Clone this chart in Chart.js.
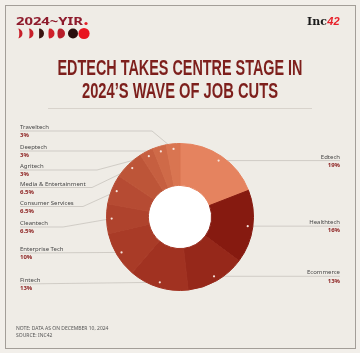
<!DOCTYPE html>
<html>
<head>
<meta charset="utf-8">
<script src="https://cdn.jsdelivr.net/npm/chart.js@4.4.0/dist/chart.umd.min.js"></script>
<style>
  html, body { margin: 0; padding: 0; background: #f2efea; }
  #card { position: absolute; left: 5px; top: 5px; width: 349px; height: 342px; border: 1px solid #a39e98; background: #efece6; }
  #chart { position: absolute; left: 0; top: 0; }
</style>
</head>
<body>
<div id="card"></div>
<canvas id="chart" width="360" height="353"></canvas>
<script>
// Data
const categories = ['Edtech', 'Healthtech', 'Ecommerce', 'Fintech', 'Enterprise Tech', 'Cleantech',
  'Consumer Services', 'Media & Entertainment', 'Agritech', 'Deeptech', 'Traveltech'];
const shares = [19, 16, 13, 13, 10, 6.5, 6.5, 6.5, 3, 3, 3];

const sliceColors = ['#e5835f', '#861a10', '#96281a', '#a13221', '#a93b27', '#af432d',
  '#b64b33', '#bd5538', '#c65f40', '#cf6a48', '#d97551'];

// Callout layout (left side labels sit on fixed rows, right ones follow their dot)
const labelSide = ['right', 'right', 'right', 'left', 'left', 'left', 'left', 'left', 'left', 'left', 'left'];
const labelLineY = [null, null, null, 284, 253, 227, 206.5, 187.5, 170, 151, 131];
const labelElbowX = [null, null, null, null, null, 63, 83, 92, 97, 140, 152];

const FONT = '"Noto Sans", sans-serif';

function fitText(ctx, text, x, y, width, align) {
  const w = ctx.measureText(text).width;
  ctx.save();
  ctx.translate(x, y);
  ctx.scale(width / w, 1);
  ctx.textAlign = align;
  ctx.fillText(text, 0, 0);
  ctx.restore();
}

// moon shape lit on the right side; k > 0 crescent, k < 0 gibbous
function moon(ctx, cx, cy, r, k, color) {
  ctx.fillStyle = color;
  ctx.beginPath();
  ctx.arc(cx, cy, r, -Math.PI / 2, Math.PI / 2, false);
  ctx.ellipse(cx, cy, Math.abs(k) * r + 0.01, r, 0, Math.PI / 2, -Math.PI / 2, k > 0);
  ctx.closePath();
  ctx.fill();
}

const headerPlugin = {
  id: 'header',
  beforeDraw(chart) {
    const ctx = chart.ctx;
    ctx.save();
    ctx.textBaseline = 'alphabetic';

    // 2024~YIR. logo
    ctx.fillStyle = '#8e1b2c';
    ctx.font = 'bold 11px ' + FONT;
    fitText(ctx, '2024~YIR', 16, 25, 67, 'left');
    ctx.fillStyle = '#e41f26';
    ctx.beginPath();
    ctx.arc(86, 23.5, 1.6, 0, Math.PI * 2);
    ctx.fill();

    moon(ctx, 17.5, 33.5, 5, 0.35, '#c8202a');
    moon(ctx, 28.5, 33.5, 5, 0.2, '#c8202a');
    moon(ctx, 39, 33.5, 5, 0.02, '#3a1410');
    moon(ctx, 49.5, 33.5, 5, -0.2, '#d0202a');
    moon(ctx, 60, 33.5, 5, -0.5, '#b81d2a');
    ctx.fillStyle = '#2a0e0c';
    ctx.beginPath(); ctx.arc(73, 33.5, 5, 0, Math.PI * 2); ctx.fill();
    ctx.fillStyle = '#e8151f';
    ctx.beginPath(); ctx.arc(84, 33.5, 5.6, 0, Math.PI * 2); ctx.fill();

    // Inc42 logo
    ctx.fillStyle = '#1b1b1b';
    ctx.font = 'bold 11px "DejaVu Serif", serif';
    ctx.textAlign = 'left';
    ctx.fillText('Inc', 307, 25);
    const incW = ctx.measureText('Inc').width;
    ctx.fillStyle = '#e8202a';
    ctx.font = 'italic bold 11px "Liberation Sans", sans-serif';
    ctx.fillText('42', 307 + incW + 0.5, 25);

    // title
    ctx.fillStyle = '#7d1f1c';
    ctx.font = 'bold 22px "Liberation Sans Narrow", "Liberation Sans", sans-serif';
    fitText(ctx, 'EDTECH TAKES CENTRE STAGE IN', 180, 74.5, 245, 'center');
    fitText(ctx, '2024\u2019S WAVE OF JOB CUTS', 180, 97.5, 196, 'center');

    ctx.strokeStyle = '#d8d3cc';
    ctx.lineWidth = 1;
    ctx.beginPath();
    ctx.moveTo(48, 108.5);
    ctx.lineTo(312, 108.5);
    ctx.stroke();

    // footer
    ctx.fillStyle = '#555555';
    ctx.font = '5px ' + FONT;
    ctx.textAlign = 'left';
    ctx.fillText('NOTE: DATA AS ON DECEMBER 10, 2024', 16, 330);
    ctx.fillText('SOURCE: INC42', 16, 336.5);
    ctx.restore();
  }
};

function dotPos(arc) {
  const p = arc.getProps(['x', 'y', 'startAngle', 'endAngle', 'outerRadius'], true);
  const mid = (p.startAngle + p.endAngle) / 2;
  const r = p.outerRadius * 0.93;
  return { x: p.x + Math.cos(mid) * r, y: p.y + Math.sin(mid) * r };
}

const calloutPlugin = {
  id: 'callouts',
  beforeDatasetsDraw(chart) {
    const ctx = chart.ctx;
    const arcs = chart.getDatasetMeta(0).data;
    ctx.save();
    // white hole in the middle
    const a0 = arcs[0].getProps(['x', 'y', 'innerRadius'], true);
    ctx.fillStyle = '#ffffff';
    ctx.beginPath();
    ctx.arc(a0.x, a0.y, a0.innerRadius + 0.5, 0, Math.PI * 2);
    ctx.fill();

    ctx.strokeStyle = '#c3beb8';
    ctx.lineWidth = 0.7;
    arcs.forEach((arc, i) => {
      const d = dotPos(arc);
      ctx.beginPath();
      if (labelSide[i] === 'right') {
        ctx.moveTo(d.x, d.y);
        ctx.lineTo(340, d.y);
      } else {
        const y = labelLineY[i];
        ctx.moveTo(20, y);
        if (labelElbowX[i] !== null) ctx.lineTo(labelElbowX[i], y);
        ctx.lineTo(d.x, d.y);
      }
      ctx.stroke();
    });
    ctx.restore();
  },
  afterDatasetsDraw(chart) {
    const ctx = chart.ctx;
    const arcs = chart.getDatasetMeta(0).data;
    ctx.save();
    arcs.forEach((arc, i) => {
      const d = dotPos(arc);
      ctx.fillStyle = '#f6e4dc';
      ctx.beginPath();
      ctx.arc(d.x, d.y, 1.1, 0, Math.PI * 2);
      ctx.fill();

      const right = labelSide[i] === 'right';
      const x = right ? 340 : 20;
      const y = right ? d.y : labelLineY[i];
      ctx.textAlign = right ? 'right' : 'left';
      ctx.textBaseline = 'alphabetic';
      ctx.fillStyle = '#474747';
      ctx.font = '6px ' + FONT;
      ctx.fillText(categories[i], x, y - 1.8);
      ctx.fillStyle = '#8a1c1c';
      ctx.font = 'bold 6px ' + FONT;
      ctx.fillText(shares[i] + '%', x, y + 6.3);
    });
    ctx.restore();
  }
};

new Chart(document.getElementById('chart'), {
  type: 'doughnut',
  data: {
    labels: categories,
    datasets: [{
      data: shares,
      backgroundColor: sliceColors,
      borderColor: sliceColors,
      borderWidth: 1,
      borderJoinStyle: 'miter'
    }]
  },
  options: {
    responsive: false,
    animation: false,
    cutout: '43%',
    layout: { padding: { left: 106, right: 106, top: 143, bottom: 62 } },
    plugins: {
      legend: { display: false },
      tooltip: { enabled: false }
    }
  },
  plugins: [headerPlugin, calloutPlugin]
});
</script>
</body>
</html>
